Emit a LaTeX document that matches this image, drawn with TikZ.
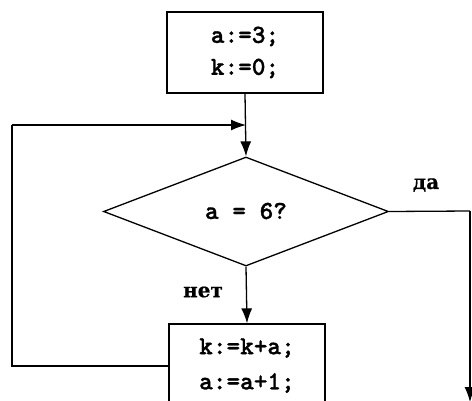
\documentclass[tikz,border=0pt]{standalone}
\usepackage{fontspec}
\newfontfamily\courfont{lmmonolt10-bold}[Extension=.otf,FakeBold=1.2]
\newfontfamily\cyrfont{DejaVu Serif}[FakeBold=0.6]
\usetikzlibrary{shapes.geometric,arrows.meta}
\begin{document}
\begin{tikzpicture}[x=1pt,y=-1pt,
  every node/.style={font=\fontsize{26}{32}\selectfont\courfont},
  cyr/.style={font=\fontsize{20}{24}\selectfont\cyrfont\bfseries},
  blk/.style={draw,line width=1.3pt,inner sep=0pt},
  cond/.style={draw,diamond,line width=1.3pt,inner sep=0pt,minimum width=285pt,minimum height=109pt,aspect=2.6},
  ln/.style={line width=1.3pt},
  arr/.style={line width=1.3pt,-{Latex[length=15pt,width=11pt]}},
  lbl/.style={inner sep=0pt}]
\useasboundingbox (0,0) rectangle (472,400);
\clip (0,0) rectangle (472,400);
\fill[white] (0,0) rectangle (472,400);
% top block
\node[blk,minimum width=156pt,minimum height=81pt,align=center] (b1) at (245,52.5) {a:=3;\\k:=0;};
% decision
\node[cond] (d) at (246,211.5) {};
\node[lbl] (dt) at (246,211) {a = 6?};
% bottom block
\node[blk,minimum width=156pt,minimum height=84pt] (b2) at (247,366) {};
\node[lbl] (t1) at (247,348) {k:=k+a;};
\node[lbl] (t2) at (247,383) {a:=a+1;};
% labels
\node[lbl,cyr] (yes) at (426,185) {да};
\node[lbl,cyr] (no) at (203,292) {нет};
% coordinates
\coordinate (j) at (246,125);
\coordinate (L) at (12,125);
\coordinate (R) at (470,211);
\coordinate (e) at (470,402);
% connectors
\draw[arr] (b1.south) -- (d.north);
\draw[arr] (d.south) -- (b2.north);
\draw[ln] (b2.west) -| (L);
\draw[arr] (L) -- (j);
\draw[ln] (d.east) -- (R);
\draw[arr] (R) -- (e);
\end{tikzpicture}
\end{document}
